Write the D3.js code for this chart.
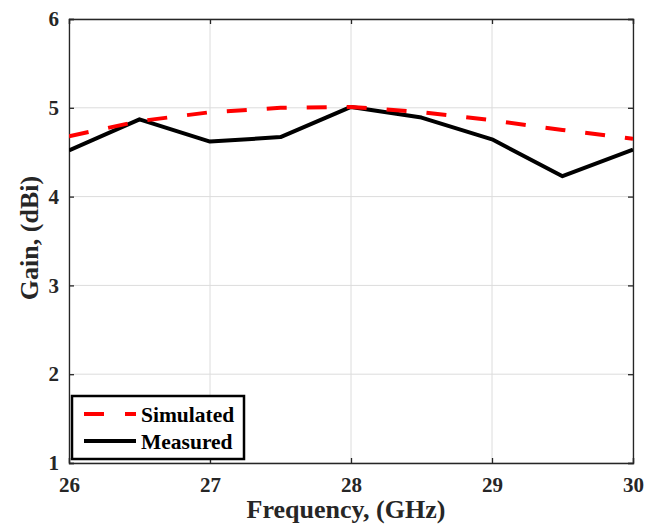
<!DOCTYPE html>
<html><head><meta charset="utf-8">
<script src="https://cdn.jsdelivr.net/npm/d3@7"></script>
<style>body{margin:0;background:#fff}</style>
</head><body>
<script>
const freq = [26, 26.5, 27, 27.5, 28, 28.5, 29, 29.5, 30];
const simulated = [4.68, 4.85, 4.95, 5.0, 5.01, 4.95, 4.86, 4.75, 4.65];
const measured = [4.52, 4.87, 4.62, 4.67, 5.01, 4.89, 4.645, 4.23, 4.53];
const xTicks = [26, 27, 28, 29, 30];
const yTicks = [1, 2, 3, 4, 5, 6];

const W = 660, H = 525;
const m = {l: 69, r: 27, t: 19, b: 62};
const svg = d3.select("body").append("svg").attr("width", W).attr("height", H);
const x = d3.scaleLinear().domain([26, 30]).range([m.l, W - m.r]);
const y = d3.scaleLinear().domain([1, 6]).range([H - m.b, m.t]);
const font = "'Liberation Serif','Times New Roman',serif";
const axisCol = "#262626";

// grid
svg.append("g").selectAll("line.gx").data(xTicks).join("line")
  .attr("x1", d => x(d)).attr("x2", d => x(d)).attr("y1", y(1)).attr("y2", y(6))
  .attr("stroke", "#dcdcdc").attr("stroke-width", 1);
svg.append("g").selectAll("line.gy").data(yTicks).join("line")
  .attr("x1", x(26)).attr("x2", x(30)).attr("y1", d => y(d)).attr("y2", d => y(d))
  .attr("stroke", "#dcdcdc").attr("stroke-width", 1);

// axes
const fmt = d3.format("d");
const ax = [
  [d3.axisBottom(x).tickValues(xTicks).tickSize(-5).tickFormat(fmt), `translate(0,${y(1)})`, true],
  [d3.axisTop(x).tickValues(xTicks).tickSize(-5).tickFormat(""), `translate(0,${y(6)})`, false],
  [d3.axisLeft(y).tickValues(yTicks).tickSize(-5).tickFormat(fmt), `translate(${x(26)},0)`, true],
  [d3.axisRight(y).tickValues(yTicks).tickSize(-5).tickFormat(""), `translate(${x(30)},0)`, false]
];
ax.forEach(([a, t, lab], i) => {
  const g = svg.append("g").attr("transform", t).call(a);
  g.select(".domain").attr("stroke", axisCol).attr("stroke-width", 1.3);
  g.selectAll(".tick line").attr("stroke", axisCol).attr("stroke-width", 1.3);
  g.selectAll(".tick text").attr("fill", "#262626").attr("font-family", font)
    .attr("font-weight", "bold").attr("font-size", 21);
  if (i === 0) g.selectAll(".tick text").attr("y", 14).attr("dy", "0.71em");
  if (i === 2) g.selectAll(".tick text").attr("x", -10);
});

const line = d3.line().x((d, i) => x(freq[i])).y(d => y(d));
svg.append("clipPath").attr("id", "c").append("rect")
  .attr("x", x(26)).attr("y", y(6)).attr("width", x(30) - x(26)).attr("height", y(1) - y(6));
svg.append("path").datum(measured).attr("d", line).attr("fill", "none")
  .attr("stroke", "#000").attr("stroke-width", 4).attr("stroke-linejoin", "round").attr("clip-path", "url(#c)");
svg.append("path").datum(simulated).attr("d", line).attr("fill", "none")
  .attr("stroke", "#ff0000").attr("stroke-width", 4).attr("stroke-dasharray", "20,20").attr("clip-path", "url(#c)");

// labels
svg.append("text").attr("x", 346).attr("y", 518).attr("text-anchor", "middle")
  .attr("font-family", font).attr("font-weight", "bold").attr("font-size", 26).attr("fill", "#262626")
  .text("Frequency, (GHz)");
svg.append("text").attr("transform", `translate(38,238) rotate(-90)`)
  .attr("text-anchor", "middle").attr("font-family", font).attr("font-weight", "bold")
  .attr("font-size", 26).attr("fill", "#262626").text("Gain, (dBi)");

// legend
const lg = svg.append("g");
lg.append("rect").attr("x", 72).attr("y", 396).attr("width", 172).attr("height", 63)
  .attr("fill", "#fff").attr("stroke", "#000").attr("stroke-width", 2.5);
const entries = [["Simulated", "#ff0000", "20,21", 414], ["Measured", "#000", null, 441]];
entries.forEach(([name, col, dash, yy]) => {
  const l = lg.append("line").attr("x1", 84).attr("x2", 136).attr("y1", yy).attr("y2", yy)
    .attr("stroke", col).attr("stroke-width", 4);
  if (dash) l.attr("stroke-dasharray", dash);
  lg.append("text").attr("x", 141).attr("y", yy).attr("dy", "0.35em")
    .attr("font-family", font).attr("font-weight", "bold").attr("font-size", 21.5).attr("fill", "#000").text(name);
});
</script>
</body></html>
